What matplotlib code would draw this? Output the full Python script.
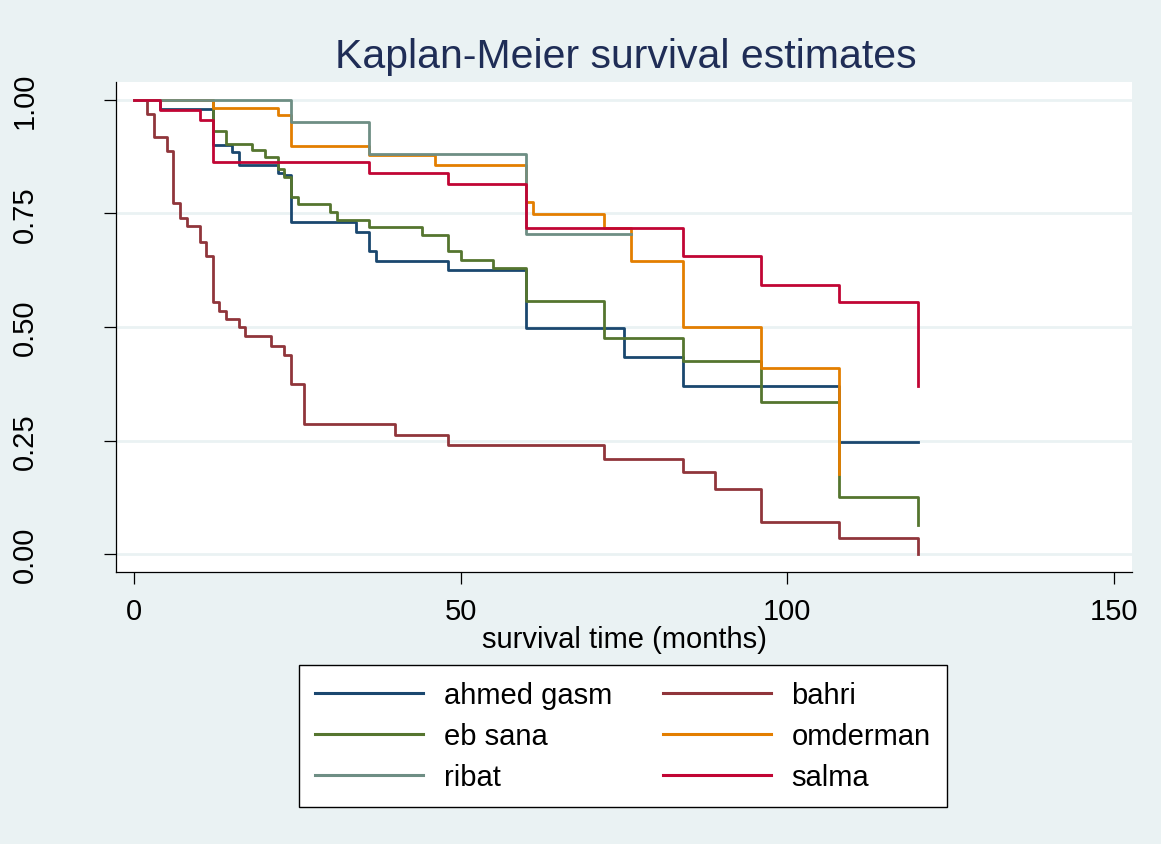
import numpy as np
import matplotlib
matplotlib.use("Agg")
import matplotlib.pyplot as plt

plt.rcParams["font.family"] = ["Liberation Sans", "DejaVu Sans"]

# Kaplan-Meier step estimates per hospital: event times, survival after each
# event, and the last follow-up time of the group.
ahmed_t = [0, 4, 12, 15, 16, 22, 23, 24, 34, 36, 37, 48, 60, 75, 84, 108]
ahmed_s = [1.0, 0.980, 0.900, 0.885, 0.857, 0.839, 0.835, 0.732, 0.710,
           0.667, 0.646, 0.626, 0.497, 0.434, 0.371, 0.248]
ahmed_end = 120

bahri_t = [0, 2, 3, 5, 6, 7, 8, 10, 11, 12, 13, 14, 16, 17, 21, 23, 24, 26,
           40, 48, 72, 84, 89, 96, 108, 120]
bahri_s = [1.0, 0.970, 0.919, 0.888, 0.772, 0.739, 0.723, 0.687, 0.657,
           0.555, 0.536, 0.518, 0.500, 0.480, 0.458, 0.438, 0.374, 0.287,
           0.263, 0.240, 0.209, 0.180, 0.143, 0.071, 0.035, 0.0]
bahri_end = 120

ebsana_t = [0, 12, 14, 18, 20, 22, 23, 24, 25, 30, 31, 36, 44, 48, 50, 55,
            60, 72, 84, 96, 108, 120]
ebsana_s = [1.0, 0.931, 0.903, 0.889, 0.874, 0.847, 0.830, 0.787, 0.770,
            0.753, 0.736, 0.721, 0.703, 0.667, 0.648, 0.630, 0.557, 0.475,
            0.426, 0.334, 0.125, 0.064]
ebsana_end = 120

omder_t = [0, 12, 22, 24, 36, 46, 60, 61, 72, 76, 84, 96, 108]
omder_s = [1.0, 0.983, 0.967, 0.898, 0.878, 0.857, 0.775, 0.748, 0.717,
           0.645, 0.501, 0.410, 0.176]
omder_end = 108

ribat_t = [0, 24, 36, 60]
ribat_s = [1.0, 0.952, 0.880, 0.704]
ribat_end = 76

salma_t = [0, 4, 10, 12, 36, 48, 60, 84, 96, 108, 120]
salma_s = [1.0, 0.978, 0.955, 0.864, 0.839, 0.815, 0.717, 0.656, 0.593,
           0.556, 0.371]
salma_end = 120

groups = ["ahmed gasm", "bahri", "eb sana", "omderman", "ribat", "salma"]
colors = ["#1a476f", "#90353b", "#55752f", "#e37e00", "#6e8e84", "#c10534"]
curves = [(ahmed_t, ahmed_s, ahmed_end), (bahri_t, bahri_s, bahri_end),
          (ebsana_t, ebsana_s, ebsana_end), (omder_t, omder_s, omder_end),
          (ribat_t, ribat_s, ribat_end), (salma_t, salma_s, salma_end)]

bg = "#eaf2f3"
fig = plt.figure(figsize=(11.61, 8.45), dpi=100, facecolor=bg)
ax = fig.add_axes([0.0999, 0.3215, 0.8751, 0.5806])
ax.set_facecolor("white")

for yv in [0, 0.25, 0.5, 0.75, 1.0]:
    ax.axhline(yv, color=bg, lw=2.0, zorder=1)

handles = []
for name, col, (t, s, end) in zip(groups, colors, curves):
    x = list(t) + [end]
    y = list(s) + [s[-1]]
    h, = ax.step(x, y, where="post", color=col, lw=2.0, label=name, zorder=3)
    handles.append(h)

ax.set_xlim(-2.8, 152.8)
ax.set_ylim(-0.040, 1.040)
ax.set_xticks([0, 50, 100, 150])
ax.set_yticks([0, 0.25, 0.5, 0.75, 1.0])
ax.set_yticklabels(["0.00", "0.25", "0.50", "0.75", "1.00"],
                   rotation=90, va="center")
ax.tick_params(axis="both", length=8.5, width=0.9, labelsize=21,
               direction="out", colors="black")
ax.tick_params(axis="x", pad=9)
ax.tick_params(axis="y", pad=47)
for side in ["top", "right"]:
    ax.spines[side].set_visible(False)
for side in ["left", "bottom"]:
    ax.spines[side].set_linewidth(0.9)
    ax.spines[side].set_color("black")

ax.set_xlabel("survival time (months)", fontsize=21, labelpad=0)

fig.text(0.539, 0.9195, "Kaplan-Meier survival estimates", ha="center",
         va="baseline", fontsize=29.5, color="#1f2d56")

# two-column legend filled row by row
order = [0, 2, 4, 1, 3, 5]
leg = fig.legend([handles[i] for i in order], [groups[i] for i in order],
                 loc="center", bbox_to_anchor=(0.5366, 0.1275), ncol=2,
                 fontsize=21, frameon=True, fancybox=False,
                 edgecolor="black", framealpha=1, handlelength=3.7,
                 handletextpad=0.7, columnspacing=1.75, labelspacing=0.45,
                 borderpad=0.55)
leg.get_frame().set_linewidth(1.0)
for ln in leg.get_lines():
    ln.set_linewidth(2.2)

fig.savefig("out.png", dpi=100, facecolor=bg)
